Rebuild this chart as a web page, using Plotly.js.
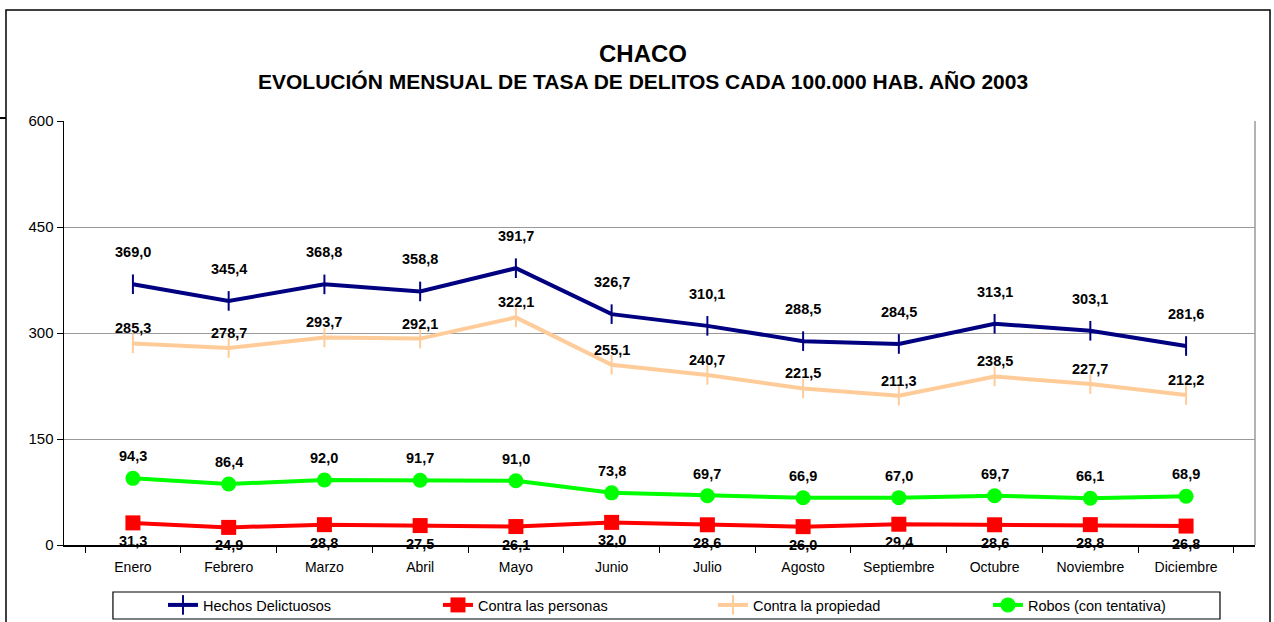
<!DOCTYPE html>
<html>
<head>
<meta charset="utf-8">
<script src="https://cdn.plot.ly/plotly-3.0.1.min.js"></script>
<style>html,body{margin:0;padding:0;background:#fff;}#chart{width:1274px;height:622px;}</style>
</head>
<body>
<div id="chart"></div>
<script>
const months = ["Enero","Febrero","Marzo","Abril","Mayo","Junio","Julio","Agosto","Septiembre","Octubre","Noviembre","Diciembre"];
const hechos = [369.0, 345.4, 368.8, 358.8, 391.7, 326.7, 310.1, 288.5, 284.5, 313.1, 303.1, 281.6];
const personas = [31.3, 24.9, 28.8, 27.5, 26.1, 32.0, 28.6, 26.0, 29.4, 28.6, 28.8, 26.8];
const propiedad = [285.3, 278.7, 293.7, 292.1, 322.1, 255.1, 240.7, 221.5, 211.3, 238.5, 227.7, 212.2];
const robos = [94.3, 86.4, 92.0, 91.7, 91.0, 73.8, 69.7, 66.9, 67.0, 69.7, 66.1, 68.9];
const seriesNames = ["Hechos Delictuosos","Contra las personas","Contra la propiedad","Robos (con tentativa)"];
const yTicks = [0,150,300,450,600];

const FONT = "Liberation Sans, Arial, sans-serif";
const fmt = v => v.toFixed(1).replace('.', ',');

const traces = [
  {name: seriesNames[0], x: months, y: hechos, mode: 'lines+markers', type: 'scatter',
   line: {color: '#000080', width: 4},
   marker: {symbol: 'line-ns-open', size: 14, line: {color: '#000080', width: 2}}},
  {name: seriesNames[1], x: months, y: personas, mode: 'lines+markers', type: 'scatter',
   line: {color: '#FF0000', width: 4},
   marker: {symbol: 'square', size: 15, color: '#FF0000'}},
  {name: seriesNames[2], x: months, y: propiedad, mode: 'lines+markers', type: 'scatter',
   line: {color: '#FFCC99', width: 4},
   marker: {symbol: 'line-ns-open', size: 14, line: {color: '#FFCC99', width: 2}}},
  {name: seriesNames[3], x: months, y: robos, mode: 'lines+markers', type: 'scatter',
   line: {color: '#00FF00', width: 4},
   marker: {symbol: 'circle', size: 15, color: '#00FF00'}}
];

const labelSets = [[hechos, 32], [personas, -18], [propiedad, 15], [robos, 22]];
const annotations = [];
labelSets.forEach(([vals, shift]) => {
  vals.forEach((v, i) => {
    annotations.push({x: months[i], y: v, text: fmt(v), showarrow: false,
      xref: 'x', yref: 'y', yshift: shift, yanchor: 'middle', xanchor: 'center',
      font: {family: FONT, size: 14.5, color: '#000', weight: 'bold'}});
  });
});
annotations.push({xref: 'paper', yref: 'paper', x: 0.486, y: 1.160, yanchor: 'middle', text: '<b>CHACO</b>',
  showarrow: false, font: {family: FONT, size: 24, color: '#000'}});
annotations.push({xref: 'paper', yref: 'paper', x: 0.486, y: 1.092, yanchor: 'middle',
  text: '<b>EVOLUCIÓN MENSUAL DE TASA DE DELITOS CADA 100.000 HAB. AÑO 2003</b>',
  showarrow: false, font: {family: FONT, size: 21, color: '#000'}});

const layout = {
  width: 1274, height: 622,
  margin: {l: 64, r: 19, t: 121, b: 77, autoexpand: false},
  paper_bgcolor: '#fff', plot_bgcolor: '#fff',
  showlegend: true,
  legend: {orientation: 'h', x: 0.0831, xanchor: 'left', y: -0.1415, yanchor: 'middle',
    entrywidth: 230, entrywidthmode: 'pixels', borderwidth: 0, bgcolor: 'rgba(0,0,0,0)',
    font: {family: FONT, size: 14.5, color: '#000'}, traceorder: 'normal'},
  xaxis: {type: 'category', showgrid: false, showline: true, linecolor: '#000', linewidth: 1.5,
    ticks: 'outside', tickson: 'boundaries', ticklen: 6, tickcolor: '#000', ticklabelstandoff: 9,
    tickfont: {family: FONT, size: 14, color: '#000'}, zeroline: false, fixedrange: true},
  yaxis: {range: [0, 600], tickvals: yTicks, ticktext: yTicks.map(String), showgrid: true,
    gridcolor: '#9a9a9a', gridwidth: 1, showline: true, linecolor: '#000', linewidth: 1.5,
    ticks: 'outside', ticklen: 6, tickcolor: '#000', zeroline: false,
    tickfont: {family: FONT, size: 15, color: '#000'}, fixedrange: true},
  annotations: annotations,
  shapes: [
    {type: 'line', xref: 'paper', yref: 'paper', x0: 1, x1: 1, y0: 0, y1: 1, line: {color: '#9a9a9a', width: 1.5}},
    {type: 'rect', xref: 'paper', yref: 'paper', x0: -0.0487, x1: 1.0126, y0: -0.25, y1: 1.2618, line: {color: '#000', width: 1.5}},
    {type: 'line', xref: 'paper', yref: 'paper', x0: -0.056, x1: -0.0487, y0: 1.007, y1: 1.007, line: {color: '#000', width: 2}},
    {type: 'rect', xref: 'paper', yref: 'paper', x0: 0.0411, x1: 0.9706, y0: -0.1745, y1: -0.1108, line: {color: '#000', width: 1.2}}
  ]
};

Plotly.newPlot('chart', traces, layout, {displayModeBar: false, staticPlot: true});
</script>
</body>
</html>
